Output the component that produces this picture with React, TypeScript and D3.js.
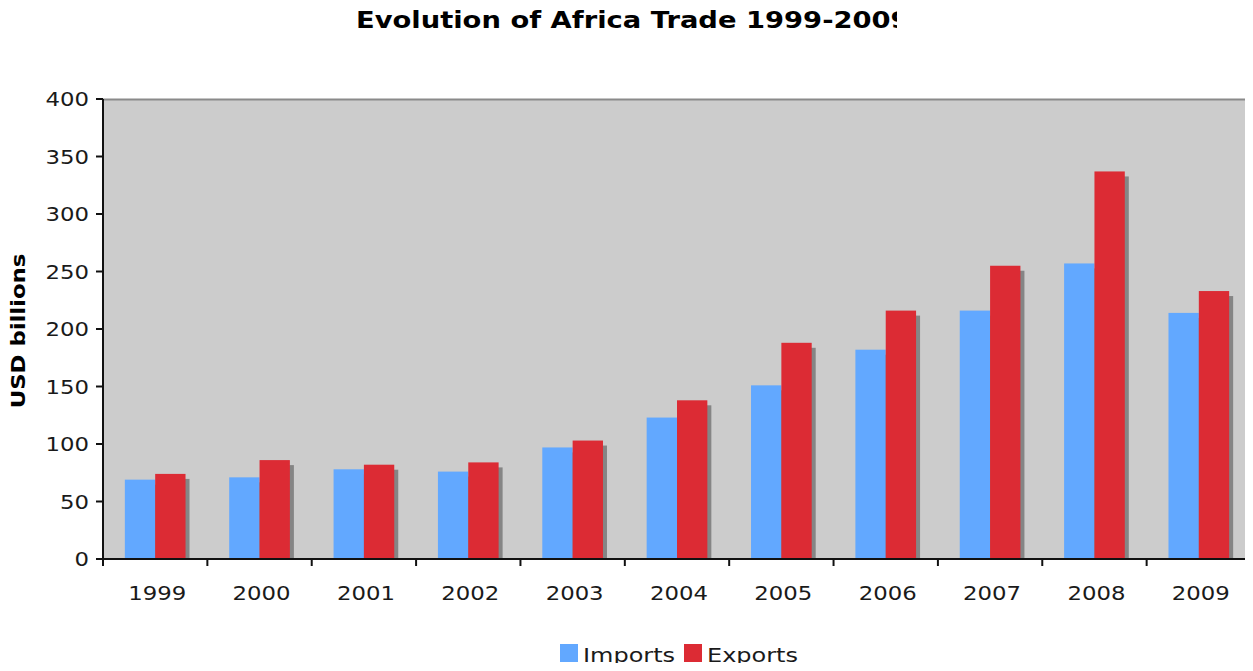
import { useEffect, useRef } from 'react'
import * as d3 from 'd3'

const years = ['1999', '2000', '2001', '2002', '2003', '2004', '2005', '2006', '2007', '2008', '2009']
const imports = [69, 71, 78, 76, 97, 123, 151, 182, 216, 257, 214]
const exports = [74, 86, 82, 84, 103, 138, 188, 216, 255, 337, 233]
const yTicks = [0, 50, 100, 150, 200, 250, 300, 350, 400]
const seriesNames = ['Imports', 'Exports']
const seriesColors = ['#62a8ff', '#dc2b34']

const W = 1253
const H = 671
const margins = { top: 99, right: 2, bottom: 112, left: 103 }
const font = '"DejaVu Sans", Verdana, sans-serif'
// the reference text is drawn a little wider than it is tall
const stretch = 1.2

export default function App() {
	const ref = useRef<SVGSVGElement>(null)

	useEffect(() => {
		const svg = d3.select(ref.current)
		svg.selectAll('*').remove()

		const width = W - margins.left - margins.right
		const height = H - margins.top - margins.bottom

		const x = d3.scaleBand().domain(years).range([0, width]).paddingInner(0).paddingOuter(0)
		const y = d3.scaleLinear().domain([0, 400]).range([height, 0])
		const inner = d3.scaleBand().domain(seriesNames).range([0, x.bandwidth()]).paddingOuter(0.72)

		const label = (parent: any, tx: number, ty: number, txt: string, css: string, anchor = 'start', sx = stretch) =>
			parent
				.append('text')
				.attr('transform', `translate(${tx},${ty}) scale(${sx},1)`)
				.attr('text-anchor', anchor)
				.style('font', css)
				.attr('fill', '#1a1a1a')
				.text(txt)

		// title, clipped like the original
		svg
			.append('clipPath')
			.attr('id', 'titleClip')
			.append('rect')
			.attr('x', 0)
			.attr('y', 0)
			.attr('width', 897)
			.attr('height', 60)
		const titleG = svg.append('g').attr('clip-path', 'url(#titleClip)')
		label(titleG, 356, 28, 'Evolution of Africa Trade 1999-2009', `bold 23px ${font}`, 'start', 1.19).attr('fill', '#000')

		const g = svg.append('g').attr('transform', `translate(${margins.left},${margins.top})`)

		// plot background
		g.append('rect').attr('x', 0).attr('y', 0).attr('width', width).attr('height', height).attr('fill', '#cccccc')
		g.append('line').attr('x1', 0).attr('x2', width).attr('y1', 0.5).attr('y2', 0.5).attr('stroke', '#8a8a8a').attr('stroke-width', 2)
		g.append('line').attr('x1', width - 1).attr('x2', width - 1).attr('y1', 0).attr('y2', height).attr('stroke', '#8a8a8a').attr('stroke-width', 2)

		const data = years.map((yr, i) => ({ yr, vals: [imports[i], exports[i]] }))

		const groups = g
			.selectAll('g.cat')
			.data(data)
			.enter()
			.append('g')
			.attr('class', 'cat')
			.attr('transform', (d) => `translate(${x(d.yr)},0)`)

		// shadows
		groups
			.selectAll('rect.shadow')
			.data((d) => d.vals.map((v, k) => ({ v, k })))
			.enter()
			.append('rect')
			.attr('class', 'shadow')
			.attr('x', (d) => (inner(seriesNames[d.k]) as number) + 4)
			.attr('y', (d) => y(d.v) + 5)
			.attr('width', inner.bandwidth())
			.attr('height', (d) => Math.max(0, height - y(d.v) - 5))
			.attr('fill', '#858585')

		groups
			.selectAll('rect.bar')
			.data((d) => d.vals.map((v, k) => ({ v, k })))
			.enter()
			.append('rect')
			.attr('class', 'bar')
			.attr('x', (d) => inner(seriesNames[d.k]) as number)
			.attr('y', (d) => y(d.v))
			.attr('width', inner.bandwidth())
			.attr('height', (d) => height - y(d.v))
			.attr('fill', (d) => seriesColors[d.k])

		// y axis
		g.append('line').attr('x1', 0).attr('x2', 0).attr('y1', 0).attr('y2', height).attr('stroke', '#111').attr('stroke-width', 2)
		yTicks.forEach((t) => {
			g.append('line').attr('x1', -7).attr('x2', 0).attr('y1', y(t)).attr('y2', y(t)).attr('stroke', '#111').attr('stroke-width', 2)
			label(g, -14, y(t) + 7, String(t), `19px ${font}`, 'end')
		})

		// x axis with ticks at category boundaries
		const xAxis = g.append('g').attr('transform', `translate(0,${height})`)
		xAxis.append('line').attr('x1', 0).attr('x2', width).attr('y1', 0).attr('y2', 0).attr('stroke', '#111').attr('stroke-width', 2)
		const bounds = d3.range(years.length + 1).map((i) => i * x.step())
		xAxis
			.selectAll('line.tk')
			.data(bounds)
			.enter()
			.append('line')
			.attr('class', 'tk')
			.attr('x1', (d) => d)
			.attr('x2', (d) => d)
			.attr('y1', 0)
			.attr('y2', 7)
			.attr('stroke', '#111')
			.attr('stroke-width', 2)
		years.forEach((yr) => {
			label(xAxis, (x(yr) as number) + x.bandwidth() / 2 + 2, 41, yr, `19px ${font}`, 'middle')
		})

		// y axis title
		svg
			.append('text')
			.attr('transform', `translate(25,${margins.top + height / 2 + 2}) rotate(-90) scale(${stretch},1)`)
			.attr('text-anchor', 'middle')
			.style('font', `bold 19px ${font}`)
			.attr('fill', '#000')
			.text('USD billions')

		// legend
		const legend = svg.append('g').attr('transform', 'translate(560,644)')
		const legendX = [0, 124]
		seriesNames.forEach((name, i) => {
			legend.append('rect').attr('x', legendX[i]).attr('y', 0).attr('width', 18).attr('height', 18).attr('fill', seriesColors[i])
			label(legend, legendX[i] + 23, 18, name, `20px ${font}`, 'start')
		})
	}, [])

	return <svg ref={ref} width={W} height={H} style={{ display: 'block', margin: '-8px' }} />
}
